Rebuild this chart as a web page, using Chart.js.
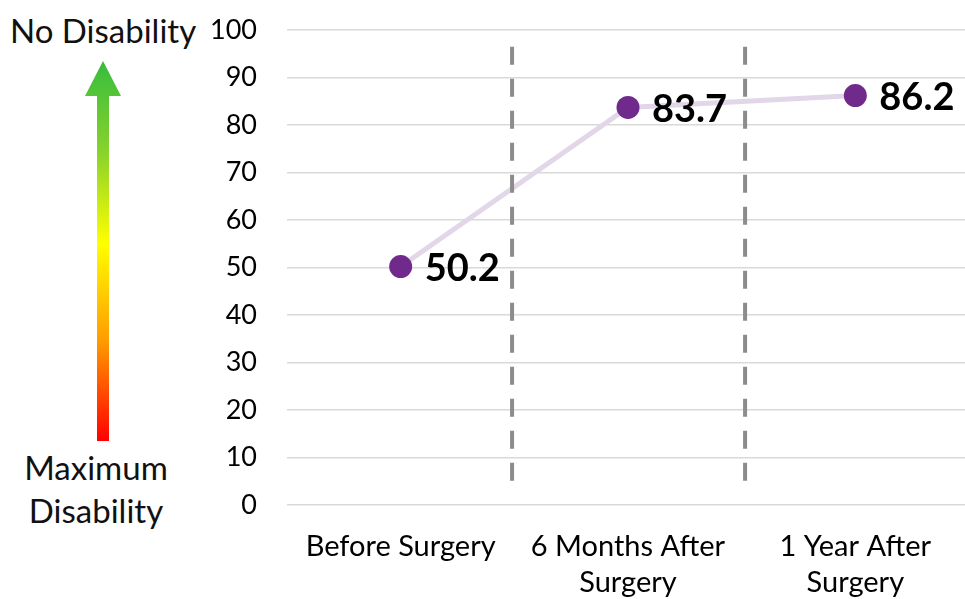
<!DOCTYPE html>
<html>
<head>
<meta charset="utf-8">
<script src="https://cdn.jsdelivr.net/npm/chart.js@4/dist/chart.umd.min.js"></script>
<style>
  html, body { margin: 0; padding: 0; background: #fff; overflow: hidden; width: 965px; height: 599px; }
  #wrap { position: absolute; left: 0; top: 0; width: 970px; height: 599px; }
  .side { position: absolute; font-family: Lato, sans-serif; font-size: 33px; color: #111; }
  #top-label { left: 10px; top: 10px; line-height: 40px; }
  #bottom-label { left: 0; width: 192px; top: 446px; text-align: center; line-height: 43px; }
  #arrow { position: absolute; left: 0; top: 0; }
</style>
</head>
<body>
<svg id="arrow" width="200" height="599">
  <defs>
    <linearGradient id="grad" x1="0" y1="61" x2="0" y2="441" gradientUnits="userSpaceOnUse">
      <stop offset="0" stop-color="#36bc3e"/>
      <stop offset="0.25" stop-color="#8cd42a"/>
      <stop offset="0.48" stop-color="#ffff00"/>
      <stop offset="0.74" stop-color="#ff9a00"/>
      <stop offset="1" stop-color="#ff0000"/>
    </linearGradient>
  </defs>
  <polygon points="103,61 121,96 109,96 109,441 97,441 97,96 85,96" fill="url(#grad)"/>
</svg>
<div class="side" id="top-label">No Disability</div>
<div class="side" id="bottom-label">Maximum<br>Disability</div>
<div id="wrap"><canvas id="chart"></canvas></div>
<script>
// Werte
const categories = [['Before Surgery'], ['6 Months After', 'Surgery'], ['1 Year After', 'Surgery']];
const scores = [50.2, 83.7, 86.2];
const yMin = 0, yMax = 100, yStep = 10;
const dividers = [0.49, 1.515];   // between categories (index units)
const dividerRange = [3.5, 96.5]; // in y units

const valueLabels = {
  id: 'valueLabels',
  afterDatasetsDraw(chart) {
    const ctx = chart.ctx;
    const meta = chart.getDatasetMeta(0);
    ctx.save();
    ctx.font = 'bold 38px Lato, sans-serif';
    ctx.fillStyle = '#000';
    ctx.textAlign = 'left';
    ctx.textBaseline = 'middle';
    meta.data.forEach((pt, i) => {
      ctx.fillText(scores[i].toFixed(1), pt.x + 24, pt.y + 2);
    });
    ctx.restore();
  }
};

const dividerLines = {
  id: 'dividerLines',
  afterDatasetsDraw(chart) {
    const { ctx, scales: { x, y } } = chart;
    ctx.save();
    ctx.strokeStyle = '#8c8c8c';
    ctx.lineWidth = 4;
    ctx.setLineDash([18, 14]);
    dividers.forEach((d) => {
      const px = x.getPixelForValue(d);
      ctx.beginPath();
      ctx.moveTo(px, y.getPixelForValue(dividerRange[1]));
      ctx.lineTo(px, y.getPixelForValue(dividerRange[0]));
      ctx.stroke();
    });
    ctx.restore();
  }
};

new Chart(document.getElementById('chart'), {
  type: 'line',
  data: {
    labels: categories,
    datasets: [{
      data: scores,
      borderColor: '#e2d6e9',
      borderWidth: 5,
      pointRadius: 11.5,
      pointBackgroundColor: '#702a8c',
      pointBorderWidth: 0,
      tension: 0
    }]
  },
  options: {
    responsive: true, maintainAspectRatio: false,
    animation: false,
    layout: { autoPadding: false, padding: { top: 30, right: 1, left: 0, bottom: 0 } },
    plugins: { legend: { display: false }, tooltip: { enabled: false } },
    scales: {
      x: {
        offset: true,
        grid: { display: false },
        border: { display: false },
        ticks: {
          color: '#000', font: { family: 'Lato', size: 29, lineHeight: 1.24 },
          maxRotation: 0, autoSkip: false, padding: 16
        },
        afterFit(s) { s.height = 94; s.paddingLeft = 0; s.paddingRight = 0; }
      },
      y: {
        min: yMin, max: yMax,
        grid: { color: '#d9d9d9', lineWidth: 1.5, drawTicks: false },
        border: { display: false },
        ticks: { stepSize: yStep, color: '#000', font: { family: 'Lato', size: 27 }, padding: 30 },
        afterFit(s) { s.width = 287; s.paddingTop = 0; s.paddingBottom = 0; }
      }
    }
  },
  plugins: [dividerLines, valueLabels]
});
</script>
</body>
</html>
